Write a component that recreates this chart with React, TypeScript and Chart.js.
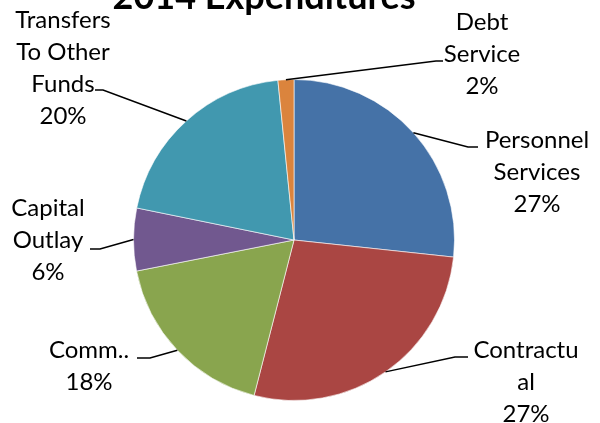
import React, { useEffect, useRef } from "react";
import { Chart, registerables } from "chart.js";

Chart.register(...registerables);

// ---- data ----
const categories = [
  "Personnel Services",
  "Contractual",
  "Comm..",
  "Capital Outlay",
  "Transfers To Other Funds",
  "Debt Service",
];
const labelLines = [
  ["Personnel", "Services"],
  ["Contractu", "al"],
  ["Comm.."],
  ["Capital", "Outlay"],
  ["Transfers", "To Other", "Funds"],
  ["Debt", "Service"],
];
const values = [26.7, 27.3, 17.9, 6.3, 20.2, 1.6];
const colors = ["#4572A7", "#AA4643", "#89A54E", "#71588F", "#4198AF", "#DB843D"];
const titleText = "2014 Expenditures";

// ---- label layout (annotation positions) ----
const labelCenterX = [537, 526, 89, 48, 63, 482];
const labelTopY = [140, 350, 350, 208, 20, 22];
const elbowA = [[468, 147], [455, 357], [150, 358], [100, 249], [103, 90], [436, 61]];
const elbowB = [[478, 147], [468, 357], [137, 358], [90, 249], [95, 90], [443, 61]];
const lineGap = 32;
const FONT = "Lato, 'Open Sans', sans-serif";

const labelPlugin = {
  id: "excelLabels",
  afterDatasetsDraw(chart: any) {
    const ctx = chart.ctx;
    const meta = chart.getDatasetMeta(0);
    const total = values.reduce((a, b) => a + b, 0);
    ctx.save();
    // title
    ctx.fillStyle = "#000";
    ctx.font = `bold 36px ${FONT}`;
    ctx.textAlign = "center";
    ctx.textBaseline = "alphabetic";
    ctx.fillText(titleText, 264, 9);

    ctx.font = `24px ${FONT}`;
    ctx.textBaseline = "middle";
    meta.data.forEach((arc: any, i: number) => {
      const p = arc.getProps(["x", "y", "startAngle", "endAngle", "outerRadius"], true);
      const mid = (p.startAngle + p.endAngle) / 2;
      const sx = p.x + Math.cos(mid) * p.outerRadius;
      const sy = p.y + Math.sin(mid) * p.outerRadius;
      ctx.strokeStyle = "#000";
      ctx.lineWidth = 1.5;
      ctx.beginPath();
      ctx.moveTo(sx, sy);
      ctx.lineTo(elbowA[i][0], elbowA[i][1]);
      ctx.lineTo(elbowB[i][0], elbowB[i][1]);
      ctx.stroke();
      const pct = Math.round((values[i] / total) * 100) + "%";
      const lines = [...labelLines[i], pct];
      lines.forEach((t, k) => {
        ctx.fillText(t, labelCenterX[i], labelTopY[i] + k * lineGap);
      });
    });
    ctx.restore();
  },
};

export default function App() {
  const ref = useRef<HTMLCanvasElement | null>(null);
  useEffect(() => {
    document.body.style.margin = "0";
    const chart = new Chart(ref.current as HTMLCanvasElement, {
      type: "pie",
      data: {
        labels: categories,
        datasets: [
          {
            data: values,
            backgroundColor: colors,
            borderColor: "rgba(255,255,255,0.6)",
            borderWidth: 1,
          },
        ],
      },
      options: {
        responsive: false,
        animation: false,
        layout: { padding: { top: 79, bottom: 22, left: 133, right: 145 } },
        plugins: {
          legend: { display: false },
          tooltip: { enabled: false },
          title: { display: false },
        },
      },
      plugins: [labelPlugin],
    });
    return () => chart.destroy();
  }, []);
  return (
    <div style={{ width: 600, height: 423, background: "#fff" }}>
      <canvas ref={ref} width={600} height={423} />
    </div>
  );
}
